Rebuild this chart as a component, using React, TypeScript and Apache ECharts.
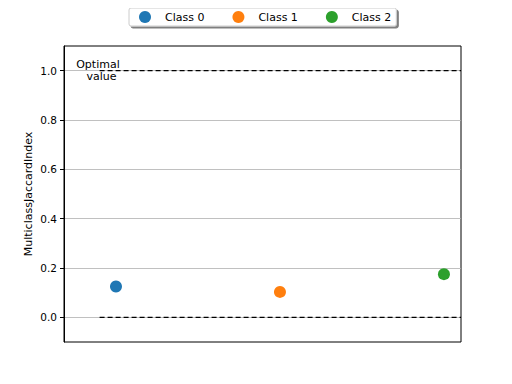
import React, { useEffect, useRef } from "react";
import * as echarts from "echarts";

const classes = ["Class 0", "Class 1", "Class 2"];
const classValues = [0.125, 0.103, 0.175];
const classColors = ["#1f77b4", "#ff7f0e", "#2ca02c"];
const optimalValue = 1.0;
const worstValue = 0.0;
const yTicks = [0, 0.2, 0.4, 0.6, 0.8, 1.0];
const xMin = -0.317;
const xMax = 2.104;
const refLineStart = -0.1;

export default function App() {
  const ref = useRef<HTMLDivElement>(null);
  useEffect(() => {
    const chart = echarts.init(ref.current!, null, { renderer: "svg" });
    const font = "DejaVu Sans";
    const series: any[] = classes.map((name, i) => ({
      name,
      type: "scatter",
      data: [[i, classValues[i]]],
      symbol: "circle",
      symbolSize: 12,
      itemStyle: { color: classColors[i], opacity: 1 },
      z: 5,
    }));
    series.push({
      name: "optimal",
      type: "line",
      data: [[refLineStart, optimalValue], [xMax, optimalValue]],
      symbol: "none",
      lineStyle: { color: "#000", width: 1.3, type: [5, 3] },
      silent: true,
      z: 3,
      markPoint: {
        symbolSize: 0,
        data: [{ coord: [-0.11, optimalValue], value: 0 }],
        label: {
          show: true,
          formatter: "Optimal\n  value",
          color: "#000",
          fontFamily: font,
          fontSize: 11,
          lineHeight: 12,
          align: "center",
          verticalAlign: "middle",
        },
      },
    });
    series.push({
      name: "worst",
      type: "line",
      data: [[refLineStart, worstValue], [xMax, worstValue]],
      symbol: "none",
      lineStyle: { color: "#000", width: 1.3, type: [5, 3] },
      silent: true,
      z: 3,
    });
    chart.setOption({
      animation: false,
      textStyle: { fontFamily: font },
      legend: {
        data: classes,
        top: 8,
        left: 129,
        icon: "circle",
        itemWidth: 12,
        itemHeight: 12,
        itemGap: 28,
        padding: [3, 5, 3, 10],
        backgroundColor: "#fff",
        borderColor: "#cccccc",
        borderWidth: 1,
        borderRadius: 2,
        shadowColor: "rgba(0,0,0,0.5)",
        shadowOffsetX: 2,
        shadowOffsetY: 2,
        shadowBlur: 0,
        textStyle: { fontSize: 11, color: "#000", padding: [0, 0, 0, 9] },
      },
      grid: {
        left: 64,
        top: 46,
        width: 397,
        height: 296,
        show: true,
        borderColor: "#000",
        borderWidth: 1,
        backgroundColor: "transparent",
      },
      xAxis: {
        type: "value",
        min: xMin,
        max: xMax,
        show: false,
        splitLine: { show: false },
      },
      yAxis: {
        type: "value",
        min: -0.1,
        max: 1.1,
        interval: 0.2,
        name: "MulticlassJaccardIndex",
        nameLocation: "middle",
        nameGap: 30,
        nameMoveOverlap: false,
        nameTextStyle: { fontSize: 11, color: "#000", fontFamily: font },
        axisLine: { show: true, onZero: false, lineStyle: { color: "#000" } },
        axisTick: {
          show: true,
          length: 4,
          lineStyle: { color: "#000" },
          customValues: yTicks,
        },
        axisLabel: {
          fontSize: 10.5,
          color: "#000",
          margin: 7,
          customValues: yTicks,
          formatter: (v: number) => v.toFixed(1),
        },
        splitLine: {
          show: true,
          lineStyle: { color: "#b0b0b0", width: 0.8 },
        },
      },
      series,
    });
    return () => chart.dispose();
  }, []);
  return <div ref={ref} style={{ width: 512, height: 384, margin: -8 }} />;
}
